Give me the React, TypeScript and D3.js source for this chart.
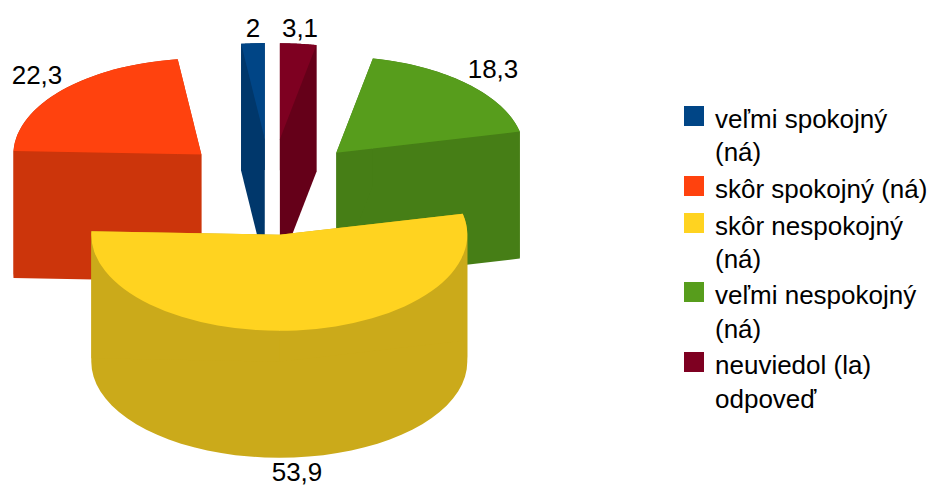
import React from "react";
import * as d3 from "d3";

const categories = ["veľmi spokojný (ná)", "skôr spokojný (ná)", "skôr nespokojný (ná)", "veľmi nespokojný (ná)", "neuviedol (la) odpoveď"];
const values = [2, 22.3, 53.9, 18.3, 3.1];
const valueLabels = ["2", "22,3", "53,9", "18,3", "3,1"];
const topColors = ["#004586", "#ff420e", "#ffd320", "#579d1c", "#7e0021"];
const sideColors = ["#00376b", "#cc350b", "#cbaa1a", "#467e16", "#650019"];
const legendLines = [["veľmi spokojný", "(ná)"], ["skôr spokojný (ná)"], ["skôr nespokojný", "(ná)"], ["veľmi nespokojný", "(ná)"], ["neuviedol (la)", "odpoveď"]];

const W = 931, H = 487;
const CX = 270.7, CY = 187, RX = 188, RY = 96, DEPTH = 127, EXPLODE = 0.5;
const FONT = "'Liberation Sans', Arial, sans-serif";
const FS = 26;
const labelPos = [[253, 37], [37, 84], [297, 481.4], [493, 78], [300, 37]];
const legendSquareY = [106, 176, 213, 282, 352];
const legendBaselines = [[128, 161], [198], [235, 268], [304, 338], [374, 408]];
const drawOrder = [1, 3, 0, 4, 2];

// counter-clockwise from 12 o'clock
const pie = d3.pie<number>().sort(null).startAngle(0).endAngle(-2 * Math.PI);
const slices = pie(values);
const arcGen = d3.arc<any>().innerRadius(0).outerRadius(RX);
const yScale = RY / RX;

// wall runs between the left/right extremes of the ellipse, so each strip has one winding
function wallRuns(a0: number, a1: number): number[][] {
  const breaks = [a0, -Math.PI / 2, (-3 * Math.PI) / 2, a1].filter((a) => a <= a0 && a >= a1);
  return d3.pairs(breaks).map(([p, q]) => d3.range(0, 41).map((k) => p + ((q - p) * k) / 40));
}

export default function App() {
  return (
    <svg width={W} height={H} style={{ position: "absolute", left: 0, top: 0, background: "#fff" }} fontFamily={FONT}>
      {drawOrder.map((i) => {
        const s = slices[i];
        const mid = (s.startAngle + s.endAngle) / 2;
        const ox = CX + EXPLODE * RX * Math.sin(mid);
        const oy = CY - EXPLODE * RY * Math.cos(mid);
        const px = (a: number) => ox + RX * Math.sin(a);
        const py = (a: number) => oy - RY * Math.cos(a);
        const area = d3.area<number>().x(px).y0(py).y1((a) => py(a) + DEPTH);
        const cut = (a: number) =>
          (d3.line()([[ox, oy], [px(a), py(a)], [px(a), py(a) + DEPTH], [ox, oy + DEPTH]]) as string) + "Z";
        return (
          <g key={i}>
            {wallRuns(s.startAngle, s.endAngle).map((run, k) => (
              <path key={k} d={area(run) as string} fill={sideColors[i]} />
            ))}
            <path d={cut(s.startAngle)} fill={sideColors[i]} />
            <path d={cut(s.endAngle)} fill={sideColors[i]} />
            <path
              d={arcGen({ startAngle: s.endAngle, endAngle: s.startAngle }) as string}
              transform={`translate(${ox},${oy}) scale(1,${yScale})`}
              fill={topColors[i]}
            />
          </g>
        );
      })}
      {valueLabels.map((t, i) => (
        <text key={t} x={labelPos[i][0]} y={labelPos[i][1]} textAnchor="middle" fontSize={FS} fill="#000">{t}</text>
      ))}
      {categories.map((c, i) => (
        <g key={c}>
          <rect x={684} y={legendSquareY[i]} width={20} height={20} fill={topColors[i]} />
          {legendLines[i].map((l, j) => (
            <text key={j} x={715} y={legendBaselines[i][j]} fontSize={FS} fill="#000">{l}</text>
          ))}
        </g>
      ))}
    </svg>
  );
}
